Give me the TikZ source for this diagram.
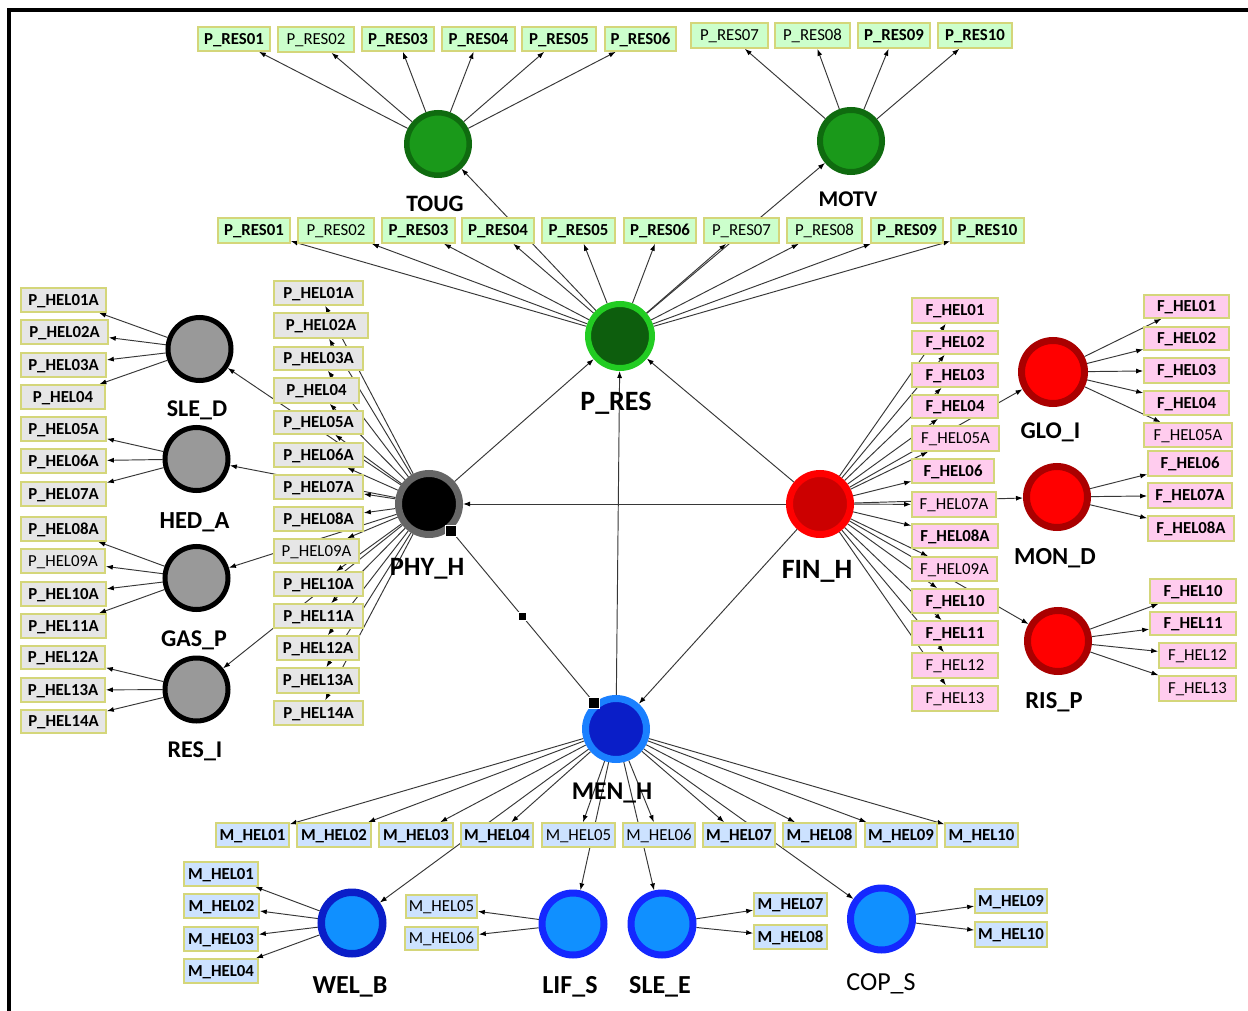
\documentclass[tikz,border=0pt]{standalone}
\usepackage{fontspec}
\setmainfont{Carlito}
\usetikzlibrary{arrows.meta,backgrounds}

\definecolor{edgecol}{RGB}{55,55,55}
\definecolor{boxrim}{RGB}{212,214,122}
\definecolor{resfill}{RGB}{204,255,204}
\definecolor{helfill}{RGB}{230,230,230}
\definecolor{finfill}{RGB}{255,204,238}
\definecolor{menfill}{RGB}{204,226,255}
\definecolor{presRing}{RGB}{34,204,34}
\definecolor{presIn}{RGB}{13,94,13}
\definecolor{tougRing}{RGB}{15,107,15}
\definecolor{tougIn}{RGB}{26,153,26}
\definecolor{phyRing}{RGB}{102,102,102}
\definecolor{satIn}{RGB}{153,153,153}
\definecolor{finRing}{RGB}{255,0,0}
\definecolor{finIn}{RGB}{204,0,0}
\definecolor{fsRing}{RGB}{170,0,0}
\definecolor{fsIn}{RGB}{255,0,0}
\definecolor{menRing}{RGB}{26,128,255}
\definecolor{menIn}{RGB}{10,30,200}
\definecolor{welRing}{RGB}{10,30,200}
\definecolor{msRing}{RGB}{20,40,255}
\definecolor{msIn}{RGB}{16,144,255}

% labelled rectangle given by its corners: style, name, x1, y1, x2, y2, text
\newcommand{\lbox}[7]{\node[#1, minimum width={#5pt-#3pt}, minimum height={#6pt-#4pt}] (#2) at ({(#3+#5)/2},{(#4+#6)/2}) {#7};}
% ringed circle: name, centre, outer radius, ring colour, fill colour, ring width
\newcommand{\hub}[6]{\node[circle, inner sep=0pt, draw=#4, fill=#5, line width=#6pt, minimum size={2*#3pt-#6pt}] (#1) at (#2) {};}

\tikzset{
  tbox/.style={draw=boxrim, line width=1.6pt, inner sep=0pt, text height=10.6pt, text depth=0pt,
               font=\bfseries\fontsize{16.8}{17}\selectfont},
  lite/.style={font=\fontsize{16.8}{17}\selectfont},
  res/.style={tbox, fill=resfill},
  hel/.style={tbox, fill=helfill},
  fin/.style={tbox, fill=finfill},
  men/.style={tbox, fill=menfill},
  ed/.style={draw=edgecol, line width=0.95pt, -{Latex[length=7pt,width=5pt,color=black]}},
  plain/.style={draw=edgecol, line width=0.95pt},
  lab/.style={anchor=base, inner sep=0pt},
  handle/.style={fill=black, draw=white, line width=0.6pt, inner sep=0pt, minimum size=#1},
}

\begin{document}
\begin{tikzpicture}[x=1pt,y=-1pt]
\useasboundingbox (0,0) rectangle (1248,1011);

% ---- hubs ----
\hub{pres}{620,336}{35}{presRing}{presIn}{6}
\hub{toug}{438,144}{34}{tougRing}{tougIn}{5.5}
\hub{motv}{851,141}{34}{tougRing}{tougIn}{6}
\hub{phy}{429,504}{34}{phyRing}{black}{7}
\hub{fin}{820,504}{34}{finRing}{finIn}{7}
\hub{men}{616,729}{34}{menRing}{menIn}{7}
\hub{sled}{199.5,349}{34}{black}{satIn}{5}
\hub{heda}{196.5,459}{34}{black}{satIn}{5}
\hub{gasp}{196.5,578}{34}{black}{satIn}{5}
\hub{resi}{196.5,689.5}{34}{black}{satIn}{5}
\hub{glo}{1053,372}{35}{fsRing}{fsIn}{7}
\hub{mon}{1057,497}{34}{fsRing}{fsIn}{7}
\hub{ris}{1058,641}{34}{fsRing}{fsIn}{7}
\hub{wel}{352,923}{34.5}{welRing}{msIn}{7.5}
\hub{lif}{573,924}{34.5}{msRing}{msIn}{7}
\hub{slee}{662,924}{34.5}{msRing}{msIn}{7}
\hub{cop}{881.5,919}{34.5}{msRing}{msIn}{7}

% ---- hub labels ----
\node[lab, font=\bfseries\fontsize{23.5}{24}\selectfont] (l-toug) at (435,211.5) {TOUG};
\node[lab, font=\bfseries\fontsize{22.5}{24}\selectfont] (l-motv) at (848,207) {MOTV};
\node[lab, font=\bfseries\fontsize{28}{28}\selectfont] (l-pres) at (616,410) {P\_RES};
\node[lab, font=\bfseries\fontsize{26.5}{28}\selectfont] (l-phy) at (427,575) {PHY\_H};
\node[lab, font=\bfseries\fontsize{28}{28}\selectfont] (l-fin) at (817,578) {FIN\_H};
\node[lab, font=\bfseries\fontsize{25.5}{26}\selectfont] (l-men) at (612,799) {MEN\_H};
\node[lab, font=\bfseries\fontsize{24}{24}\selectfont] (l-sled) at (197,416.5) {SLE\_D};
\node[lab, font=\bfseries\fontsize{24.5}{24}\selectfont] (l-heda) at (194.5,528) {HED\_A};
\node[lab, font=\bfseries\fontsize{24}{24}\selectfont] (l-gasp) at (194,646.5) {GAS\_P};
\node[lab, font=\bfseries\fontsize{24}{24}\selectfont] (l-resi) at (195,757) {RES\_I};
\node[lab, font=\bfseries\fontsize{24}{24}\selectfont] (l-glo) at (1050.5,438) {GLO\_I};
\node[lab, font=\bfseries\fontsize{24.5}{24}\selectfont] (l-mon) at (1055,564) {MON\_D};
\node[lab, font=\bfseries\fontsize{24.5}{24}\selectfont] (l-ris) at (1054,708) {RIS\_P};
\node[lab, font=\bfseries\fontsize{26}{26}\selectfont] (l-wel) at (350,993) {WEL\_B};
\node[lab, font=\bfseries\fontsize{26}{26}\selectfont] (l-lif) at (570,993) {LIF\_S};
\node[lab, font=\bfseries\fontsize{26}{26}\selectfont] (l-slee) at (660,993) {SLE\_E};
\node[lab, font=\fontsize{26}{26}\selectfont] (l-cop) at (881,990) {COP\_S};

% ---- resilience items: upper row ----
\lbox{res}{tr1}{198}{27}{270}{51}{P\_RES01}
\lbox{res,lite}{tr2}{278}{27}{354}{52}{P\_RES02}
\lbox{res}{tr3}{362}{27}{434}{51}{P\_RES03}
\lbox{res}{tr4}{442}{27}{515}{51}{P\_RES04}
\lbox{res}{tr5}{522}{27}{596}{51}{P\_RES05}
\lbox{res}{tr6}{605}{27}{676}{51}{P\_RES06}
\lbox{res,lite}{tr7}{691}{23}{768}{48}{P\_RES07}
\lbox{res,lite}{tr8}{775}{23}{850}{48}{P\_RES08}
\lbox{res}{tr9}{858}{23}{930}{48}{P\_RES09}
\lbox{res}{tr10}{938}{23}{1012}{48}{P\_RES10}

% ---- resilience items: lower row ----
\lbox{res}{sr1}{218}{218}{290}{243}{P\_RES01}
\lbox{res,lite}{sr2}{298}{218}{374}{243}{P\_RES02}
\lbox{res}{sr3}{382}{218}{455}{243}{P\_RES03}
\lbox{res}{sr4}{462}{218}{534}{243}{P\_RES04}
\lbox{res}{sr5}{542}{218}{615}{243}{P\_RES05}
\lbox{res}{sr6}{624}{218}{696}{243}{P\_RES06}
\lbox{res,lite}{sr7}{704}{218}{779}{243}{P\_RES07}
\lbox{res,lite}{sr8}{787}{218}{862}{243}{P\_RES08}
\lbox{res}{sr9}{871}{218}{943}{243}{P\_RES09}
\lbox{res}{sr10}{951}{218}{1024}{243}{P\_RES10}

% ---- physical items around PHY_H ----
\lbox{hel}{pc1}{274}{281}{363}{305}{P\_HEL01A}
\lbox{hel}{pc2}{274}{313}{368}{338}{P\_HEL02A}
\lbox{hel}{pc3}{274}{347}{363}{370}{P\_HEL03A}
\lbox{hel}{pc4}{274}{378}{359}{403}{P\_HEL04}
\lbox{hel}{pc5}{274}{411}{363}{434}{P\_HEL05A}
\lbox{hel}{pc6}{274}{443}{363}{467}{P\_HEL06A}
\lbox{hel}{pc7}{274}{475}{363}{499}{P\_HEL07A}
\lbox{hel}{pc8}{274}{507}{363}{531}{P\_HEL08A}
\lbox{hel,lite}{pc9}{274}{539}{359}{563}{P\_HEL09A}
\lbox{hel}{pc10}{274}{572}{363}{596}{P\_HEL10A}
\lbox{hel}{pc11}{274}{604}{363}{628}{P\_HEL11A}
\lbox{hel}{pc12}{277}{636}{359}{660}{P\_HEL12A}
\lbox{hel}{pc13}{277}{668}{359}{693}{P\_HEL13A}
\lbox{hel}{pc14}{274}{701}{363}{725}{P\_HEL14A}

% ---- physical items of the four sub-factors ----
\lbox{hel}{pl1}{21}{288}{106}{312}{P\_HEL01A}
\lbox{hel}{pl2}{21}{320}{108}{344}{P\_HEL02A}
\lbox{hel}{pl3}{21}{353}{106}{377}{P\_HEL03A}
\lbox{hel}{pl4}{21}{385}{105}{409}{P\_HEL04}
\lbox{hel}{pl5}{21}{417}{106}{441}{P\_HEL05A}
\lbox{hel}{pl6}{21}{449}{106}{473}{P\_HEL06A}
\lbox{hel}{pl7}{21}{482}{106}{506}{P\_HEL07A}
\lbox{hel}{pl8}{21}{517}{106}{541}{P\_HEL08A}
\lbox{hel,lite}{pl9}{21}{549}{105}{573}{P\_HEL09A}
\lbox{hel}{pl10}{21}{582}{106}{606}{P\_HEL10A}
\lbox{hel}{pl11}{21}{614}{106}{638}{P\_HEL11A}
\lbox{hel}{pl12}{21}{646}{105}{669}{P\_HEL12A}
\lbox{hel}{pl13}{21}{678}{105}{702}{P\_HEL13A}
\lbox{hel}{pl14}{21}{710}{106}{733}{P\_HEL14A}

% ---- financial items around FIN_H ----
\lbox{fin}{fc1}{912}{298}{998}{323}{F\_HEL01}
\lbox{fin}{fc2}{912}{331}{998}{354}{F\_HEL02}
\lbox{fin}{fc3}{912}{363}{998}{387}{F\_HEL03}
\lbox{fin}{fc4}{912}{395}{998}{418}{F\_HEL04}
\lbox{fin,lite}{fc5}{912}{426}{999}{451}{F\_HEL05A}
\lbox{fin}{fc6}{912}{459}{994}{483}{F\_HEL06}
\lbox{fin,lite}{fc7}{912}{492}{996}{517}{F\_HEL07A}
\lbox{fin}{fc8}{912}{524}{998}{548}{F\_HEL08A}
\lbox{fin,lite}{fc9}{912}{557}{997}{581}{F\_HEL09A}
\lbox{fin}{fc10}{912}{589}{998}{613}{F\_HEL10}
\lbox{fin}{fc11}{912}{621}{998}{645}{F\_HEL11}
\lbox{fin,lite}{fc12}{912}{653}{998}{678}{F\_HEL12}
\lbox{fin,lite}{fc13}{912}{686}{998}{711}{F\_HEL13}

% ---- financial items of the three sub-factors ----
\lbox{fin}{fr1}{1144}{295}{1229}{318}{F\_HEL01}
\lbox{fin}{fr2}{1144}{327}{1229}{350}{F\_HEL02}
\lbox{fin}{fr3}{1144}{358}{1229}{383}{F\_HEL03}
\lbox{fin}{fr4}{1144}{391}{1229}{415}{F\_HEL04}
\lbox{fin,lite}{fr5}{1144}{423}{1232}{447}{F\_HEL05A}
\lbox{fin}{fr6}{1148}{451}{1232}{476}{F\_HEL06}
\lbox{fin}{fr7}{1148}{483}{1232}{508}{F\_HEL07A}
\lbox{fin}{fr8}{1148}{516}{1234}{541}{F\_HEL08A}
\lbox{fin}{fr10}{1150}{579}{1236}{603}{F\_HEL10}
\lbox{fin}{fr11}{1150}{612}{1236}{635}{F\_HEL11}
\lbox{fin,lite}{fr12}{1159}{643}{1236}{668}{F\_HEL12}
\lbox{fin,lite}{fr13}{1159}{676}{1236}{701}{F\_HEL13}

% ---- mental items around MEN_H ----
\lbox{men}{mr1}{216}{823}{289}{847}{M\_HEL01}
\lbox{men}{mr2}{297}{823}{371}{847}{M\_HEL02}
\lbox{men}{mr3}{379}{823}{453}{847}{M\_HEL03}
\lbox{men}{mr4}{461}{823}{533}{847}{M\_HEL04}
\lbox{men,lite}{mr5}{542}{823}{615}{847}{M\_HEL05}
\lbox{men,lite}{mr6}{623}{823}{695}{847}{M\_HEL06}
\lbox{men}{mr7}{703}{823}{775}{847}{M\_HEL07}
\lbox{men}{mr8}{783}{823}{856}{847}{M\_HEL08}
\lbox{men}{mr9}{865}{823}{937}{847}{M\_HEL09}
\lbox{men}{mr10}{945}{823}{1018}{847}{M\_HEL10}

% ---- mental items of the four sub-factors ----
\lbox{men}{mb1}{184}{862}{258}{886}{M\_HEL01}
\lbox{men}{mb2}{184}{894}{259}{918}{M\_HEL02}
\lbox{men}{mb3}{184}{927}{258}{951}{M\_HEL03}
\lbox{men}{mb4}{184}{959}{258}{983}{M\_HEL04}
\lbox{men,lite}{mb5}{406}{895}{477}{918}{M\_HEL05}
\lbox{men,lite}{mb6}{405}{927}{478}{950}{M\_HEL06}
\lbox{men}{mb7}{754}{893}{827}{916}{M\_HEL07}
\lbox{men}{mb8}{754}{925}{827}{949}{M\_HEL08}
\lbox{men}{mb9}{975}{889}{1047}{913}{M\_HEL09}
\lbox{men}{mb10}{975}{922}{1047}{947}{M\_HEL10}

% ---- selection handles on the PHY_H -- MEN_H link ----
\node[handle=11pt] (hA) at (450.5,530.5) {};
\node[handle=8pt]  (hB) at (522.5,616.5) {};
\node[handle=11pt] (hC) at (594,702.5) {};

% ---- frame ----
\draw[line width=4pt] (7,10.5) -- (1248,10.5);
\draw[line width=4pt] (9,8.5) -- (9,1011);

% ---- connectors, kept behind every node ----
\begin{scope}[on background layer]
  \fill[white] (0,0) rectangle (1248,1011);
  \foreach \i in {1,...,6} \draw[ed] (toug) -- (tr\i);
  \foreach \i in {7,...,10} \draw[ed] (motv) -- (tr\i);
  \foreach \i in {1,...,10} \draw[ed] (pres) -- (sr\i);
  \draw[ed] (pres) -- (toug);
  \draw[ed] (pres) -- (motv);
  \draw[ed] (phy) -- (pres);
  \draw[ed] (fin) -- (pres);
  \draw[ed] (men) -- (pres);
  \draw[ed] (fin) -- (phy);
  \draw[ed] (fin) -- (men);
  \draw[plain] (phy) -- (men);
  \foreach \i in {1,...,14} \draw[ed] (phy) -- (pc\i);
  \foreach \t in {sled,heda,gasp,resi} \draw[ed] (phy) -- (\t);
  \foreach \i in {1,...,4} \draw[ed] (sled) -- (pl\i);
  \foreach \i in {5,6,7} \draw[ed] (heda) -- (pl\i);
  \foreach \i in {8,...,11} \draw[ed] (gasp) -- (pl\i);
  \foreach \i in {12,13,14} \draw[ed] (resi) -- (pl\i);
  \foreach \i in {1,...,13} \draw[ed] (fin) -- (fc\i);
  \foreach \t in {glo,mon,ris} \draw[ed] (fin) -- (\t);
  \foreach \i in {1,...,5} \draw[ed] (glo) -- (fr\i);
  \foreach \i in {6,7,8} \draw[ed] (mon) -- (fr\i);
  \foreach \i in {10,...,13} \draw[ed] (ris) -- (fr\i);
  \foreach \i in {1,...,10} \draw[ed] (men) -- (mr\i);
  \foreach \t in {wel,lif,slee,cop} \draw[ed] (men) -- (\t);
  \foreach \i in {1,...,4} \draw[ed] (wel) -- (mb\i);
  \foreach \i in {5,6} \draw[ed] (lif) -- (mb\i);
  \foreach \i in {7,8} \draw[ed] (slee) -- (mb\i);
  \foreach \i in {9,10} \draw[ed] (cop) -- (mb\i);
\end{scope}
\end{tikzpicture}
\end{document}
